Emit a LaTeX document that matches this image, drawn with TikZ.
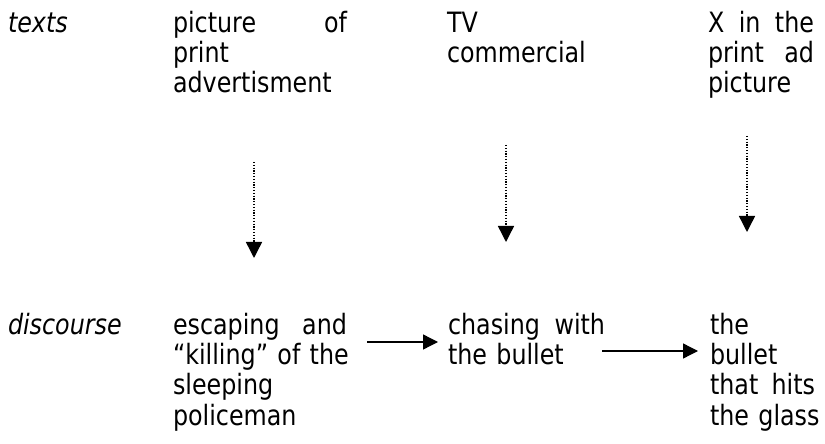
\documentclass[tikz,border=0pt]{standalone}
\usepackage{fontspec}
\setmainfont{DejaVu Sans}[FakeStretch=0.85]
\usetikzlibrary{arrows.meta}
\begin{document}
\begin{tikzpicture}[x=1bp,y=-1bp,
  every node/.style={inner sep=0pt, outer sep=0pt},
  label/.style={anchor=base west, font=\fontsize{28bp}{30bp}\selectfont\itshape},
  cell/.style={anchor=base west, align=left, text width=#1,
    font=\fontsize{28bp}{30bp}\selectfont},
  link/.style={line width=1.3bp, -{Triangle[length=15bp,width=15bp]}},
  reading/.style={line width=1.4bp, dash pattern=on 1.3bp off 1.5bp,
    -{Triangle[length=16bp,width=16bp]}}]
\useasboundingbox (0,0) rectangle (825,444);
% a justified line: words spread over the given width
\newcommand{\fullline}[2]{\leavevmode\hbox to #1{#2}}

% row labels
\node[label] (ltexts) at (8,33) {texts};
\node[label] (ldisc) at (8,335) {discourse};

% texts row
\node[cell=174bp] (t1) at (173,33)
  {\fullline{174bp}{picture\hfill of}\\print\\advertisment};
\node[cell=158bp] (t2) at (447,33) {TV\\commercial};
\node[cell=106bp] (t3) at (708,33)
  {\fullline{106bp}{X\hfill in\hfill the}\\\fullline{106bp}{print\hfill ad}\\picture};

% discourse row
\node[cell=180bp] (d1) at (173,335)
  {\fullline{174bp}{escaping\hfill and}\\“killing” of the\\sleeping\\policeman};
\node[cell=157bp] (d2) at (448,335)
  {\fullline{157bp}{chasing\hfill with}\\the bullet};
\node[cell=112bp] (d3) at (710,335)
  {the\\bullet\\\fullline{105bp}{that\hfill hits}\\the glass};

% ends of the connectors
\coordinate (r1a) at (254,162); \coordinate (r1b) at (254,258);
\coordinate (r2a) at (506,145); \coordinate (r2b) at (506,242);
\coordinate (r3a) at (747,136); \coordinate (r3b) at (747,232);
\coordinate (h1a) at (367,342); \coordinate (h1b) at (438,342);
\coordinate (h2a) at (602,351); \coordinate (h2b) at (698,351);

% text -> discourse
\draw[reading] (r1a) -- (r1b);
\draw[reading] (r2a) -- (r2b);
\draw[reading] (r3a) -- (r3b);

% discourse chain
\draw[link] (h1a) -- (h1b);
\draw[link] (h2a) -- (h2b);
\end{tikzpicture}
\end{document}
